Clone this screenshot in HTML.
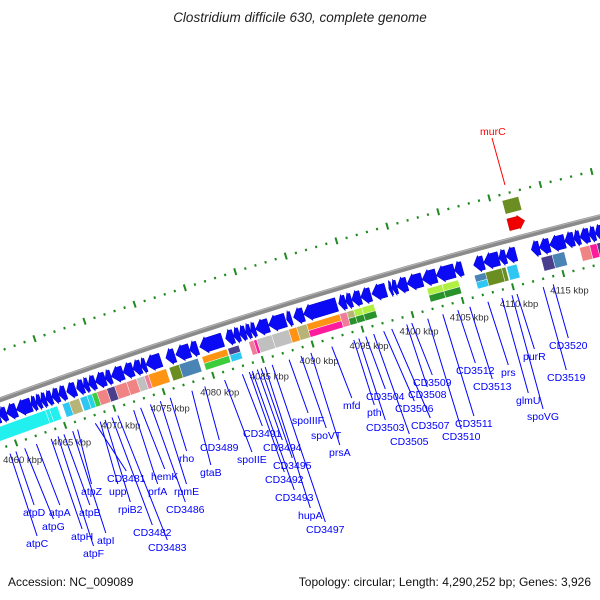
<!DOCTYPE html>
<html><head><meta charset="utf-8"><title>Clostridium difficile 630 genome map</title>
<style>
html,body{margin:0;padding:0;background:#fff;}
#wrap{position:relative;width:600px;height:600px;overflow:hidden;background:#fff;}
svg text{font-family:"Liberation Sans",sans-serif;}
</style></head>
<body>
<div id="wrap">
<svg id="map" width="600" height="600" viewBox="0 0 600 600" xmlns="http://www.w3.org/2000/svg">
<text x="300" y="22" text-anchor="middle" font-size="13.5" font-style="italic" fill="#222">Clostridium difficile 630, complete genome</text>
<text x="8" y="586" font-size="12" fill="#111">Accession: NC_009089</text>
<text x="591" y="586" font-size="12" text-anchor="end" fill="#111">Topology: circular; Length: 4,290,252 bp; Genes: 3,926</text>
<g id="layer"></g>
</svg>
</div>
<script>
// ---- data (kbp) ----
const revGeneStarts = [4059.4,4060.1,4061.1,4062.6,4063.1,4063.6,4064.1,4064.7,4065.4,4066.2,4067.2,4067.9,4068.4,4069.1,4070.1,4070.7,4071.9,4072.9,4073.7,4074.2,4076.2,4077.2,4078.6,4079.6,4082.2,4083.0,4083.6,4084.2,4084.7,4085.2,4086.5,4088.3,4089.0,4090.0,4093.5,4094.2,4094.8,4095.7,4096.8,4098.5,4098.8,4099.3,4100.3,4101.8,4103.2,4105.0,4106.9,4107.9,4109.4,4110.1,4112.6,4113.4,4114.4,4115.9,4116.8,4117.4,4118.3,4118.9,4119.6,4057.0,4058.2];
const revGeneEnds   = [4060.1,4061.1,4062.6,4063.1,4063.6,4064.1,4064.7,4065.4,4066.1,4067.1,4067.9,4068.4,4069.1,4070.1,4070.7,4071.9,4072.9,4073.7,4074.2,4075.7,4077.1,4078.6,4079.4,4081.9,4083.0,4083.6,4084.2,4084.7,4085.2,4086.5,4088.2,4088.8,4090.0,4093.3,4094.2,4094.8,4095.7,4096.7,4098.2,4098.8,4099.3,4100.3,4101.8,4103.2,4105.0,4105.8,4107.9,4109.4,4110.1,4111.1,4113.4,4114.4,4115.9,4116.8,4117.4,4118.3,4118.9,4119.6,4121.5,4058.2,4059.4];
const cogStarts = [4056.0,4063.7,4064.1,4065.4,4066.1,4067.2,4067.9,4068.4,4068.9,4069.9,4070.7,4071.9,4072.9,4073.7,4074.1,4076.2,4077.2,4079.5,4082.1,4084.2,4084.7,4085.0,4086.5,4088.2,4089.0,4090.0,4093.3,4094.0,4094.7,4095.5,4102.0,4103.5,4106.7,4107.8,4109.4,4109.9,4113.3,4114.4,4117.1,4118.1,4118.8];
const cogEnds   = [4063.7,4064.1,4064.9,4066.1,4067.1,4067.9,4068.4,4068.9,4069.9,4070.7,4071.9,4072.9,4073.7,4074.1,4075.9,4077.2,4079.1,4082.0,4083.2,4084.7,4085.0,4086.5,4088.2,4089.0,4090.0,4093.3,4094.0,4094.7,4095.5,4096.7,4103.5,4105.1,4107.8,4109.4,4109.8,4110.9,4114.4,4115.6,4118.1,4118.8,4119.6];
const cogCat1 = ["C","C","C","S","K","S","T","G","E","P","E","E","R","X","O","V","L","O","P","X","M","R","R","O","K","O","X","K","N","N","N","N","L","V","V","S","P","L","E","M","P"];
const cogCat2 = ["","","","","","","","","","","","","","","","","","G","S","","","","","","","M","","D","D","D","D","D","S","","","","","","","",""];
const fwdGeneStarts = [4111.1];
const fwdGeneEnds   = [4112.7];
const fwdCogCat = ["V"];
const tickStart = 4040, tickEnd = 4130;
const geneNames = ["atpC","atpD","atpG","atpA","atpH","atpF","atpB","atpI","atpZ","CD3481","upp","rpiB2","CD3482","CD3483","prfA","hemK","CD3486","rpmE","rho","gtaB","CD3489","spoIIE","CD3491","CD3492","CD3493","CD3494","CD3495","hupA","CD3497","spoIIIF","spoVT","prsA","mfd","pth","CD3503","CD3504","CD3505","CD3506","CD3507","CD3508","CD3509","CD3510","CD3511","CD3512","CD3513","prs","glmU","spoVG","purR","CD3519","CD3520"];
const geneAnchorKbp = [4059.1,4059.7,4060.6,4061.8,4063.3,4064.0,4064.6,4065.5,4066.0,4067.8,4068.3,4068.8,4069.5,4070.1,4071.7,4072.4,4073.4,4074.4,4075.4,4077.6,4078.9,4080.9,4082.7,4083.4,4083.7,4084.2,4084.6,4085.0,4085.7,4087.4,4088.6,4089.6,4091.7,4093.9,4094.4,4095.1,4095.9,4096.9,4097.7,4099.2,4099.7,4101.3,4102.8,4104.3,4105.5,4107.3,4108.7,4109.7,4110.2,4112.8,4113.8];
const labelX = [26,23,42,49,71,83,79,97,81,107,109,118,133,148,148,151,166,174,179,200,200,237,243,265,275,263,273,298,306,292,311,329,343,367,366,366,390,395,411,408,413,442,455,456,473,501,516,527,523,547,549];
const labelY = [547,516,530,516,540,557,516,544,495,482,495,513,536,551,495,480,513,495,462,476,451,463,437,483,501,451,469,519,533,424,439,456,409,416,431,400,445,412,429,398,386,440,427,374,390,376,404,420,360,381,349];

// ---- geometry ----
const CX=2065, CY=6095, R0=6058;
const a1=Math.atan2(425-CY,65-CX), a2=Math.atan2(287-CY,513-CX);
const perK=(a2-a1)/45;
function ang(k){return a1+(k-4065)*perK;}
function pt(k,d){const a=ang(k),r=R0+d;return [CX+r*Math.cos(a),CY+r*Math.sin(a)];}
function P(p){return p[0].toFixed(2)+","+p[1].toFixed(2);}
const NS="http://www.w3.org/2000/svg";
const layer=document.getElementById("layer");
function mk(tag,attrs){const e=document.createElementNS(NS,tag);for(const k in attrs)e.setAttribute(k,attrs[k]);layer.appendChild(e);return e;}
function band(s,e,d1,d2){const n=Math.max(1,Math.ceil((e-s)));const a=[],b=[];for(let i=0;i<=n;i++){const k=s+(e-s)*i/n;a.push(P(pt(k,d1)));b.unshift(P(pt(k,d2)));}return a.concat(b).join(" ");}
const colors={C:"#22f0ee",S:"#2ec6f2",K:"#b8b478",T:"#25d5e0",G:"#3ccc3c",E:"#f08484",P:"#4a3f8c",R:"#c0c0c0",X:"#f07c9c",O:"#ff9414",V:"#6b8e23",L:"#4a84b4",M:"#ff1c9c",N:"#b0f040",D:"#2a922a"};

// backbone
(function(){const pts=[];for(let k=4045;k<=4130;k+=1)pts.push(P(pt(k,0)));
const bb=mk("polyline",{points:pts.join(" "),fill:"none",stroke:"#8a8a8a","stroke-width":"5"});


const pts2=[];for(let k=4045;k<=4130;k+=1)pts2.push(P(pt(k,1.5)));
const hl=mk("polyline",{points:pts2.join(" "),fill:"none",stroke:"#b8b8b8","stroke-width":"1"});

})();

// ticks (inner and outer)
for(let k=tickStart;k<=tickEnd;k++){
  const major=(k%5===0);
  [[-46,1],[46,-1]].forEach(([d,s])=>{
    const len=major?3.5:1.2;
    const t=mk("line",{x1:pt(k,d-len)[0].toFixed(2),y1:pt(k,d-len)[1].toFixed(2),x2:pt(k,d+len)[0].toFixed(2),y2:pt(k,d+len)[1].toFixed(2),stroke:"#1f8a1f","stroke-width":"2"});
    
    
  });
  if(major){
    const p=pt(k,-46);
    const tx=mk("text",{x:(p[0]-13).toFixed(1),y:(p[1]+20).toFixed(1),"font-size":"9.5",fill:"#333"});
    tx.textContent=k+" kbp";
    
    
  }
}

// reverse strand genes (arrows pointing to lower kbp)
for(let i=0;i<revGeneStarts.length;i++){
  const s=revGeneStarts[i],e=revGeneEnds[i];
  const head=Math.min(0.7,(e-s)*0.6);
  const pts=[pt(s,-15),pt(s+head,-6.5),pt(s+head,-8),pt(e,-8),pt(e,-22),pt(s+head,-22),pt(s+head,-23.5)].map(P).join(" ");
  const g=mk("polygon",{points:pts,fill:"#0a0af5",stroke:"#0000c8","stroke-width":"0.5"});
  
  
}
// forward gene (murC)
for(let i=0;i<fwdGeneStarts.length;i++){
  const s=fwdGeneStarts[i],e=fwdGeneEnds[i];
  const head=Math.min(0.6,(e-s)*0.6);
  const pts=[pt(e,15),pt(e-head,22),pt(e-head,21),pt(s,21),pt(s,9),pt(e-head,9),pt(e-head,8)].map(P).join(" ");
  const g=mk("polygon",{points:pts,fill:"#f00000",stroke:"#c00000","stroke-width":"0.5"});
  
  
  const c=mk("polygon",{points:band(s,e,26,40),fill:colors[fwdCogCat[i]],stroke:"#fff","stroke-width":"0.5"});
  
  
}
// COG boxes (reverse strand)
for(let i=0;i<cogStarts.length;i++){
  const s=cogStarts[i],e=cogEnds[i];
  if(cogCat2[i]){
    const a=mk("polygon",{points:band(s,e,-25,-32),fill:colors[cogCat1[i]],stroke:"#fff","stroke-width":"0.5"});
    
    
    const b=mk("polygon",{points:band(s,e,-32,-39),fill:colors[cogCat2[i]],stroke:"#fff","stroke-width":"0.5"});
    
    
  } else {
    const a=mk("polygon",{points:band(s,e,-25,-39),fill:colors[cogCat1[i]],stroke:"#fff","stroke-width":"0.5"});
    
    
  }
}

// gene labels with leader lines
for(let i=0;i<geneNames.length;i++){
  const t=mk("text",{x:labelX[i],y:labelY[i],"font-size":"10.5",fill:"#0000ff"});
  t.textContent=geneNames[i];
  
  
  const w=t.getComputedTextLength?t.getComputedTextLength():geneNames[i].length*6;
  const a=pt(geneAnchorKbp[i],-54);
  const l=mk("line",{x1:a[0].toFixed(1),y1:a[1].toFixed(1),x2:(labelX[i]+w/2).toFixed(1),y2:(labelY[i]-11).toFixed(1),stroke:"#0000ff","stroke-width":"1"});
  
  
}
// murC label
(function(){
  const l=mk("line",{x1:"505",y1:"185",x2:"492",y2:"138",stroke:"#ff0000","stroke-width":"1"});
  
  
  const t=mk("text",{x:"480",y:"135","font-size":"10.5",fill:"#ff0000"});
  t.textContent="murC";
  
  
})();
</script>
</body></html>
